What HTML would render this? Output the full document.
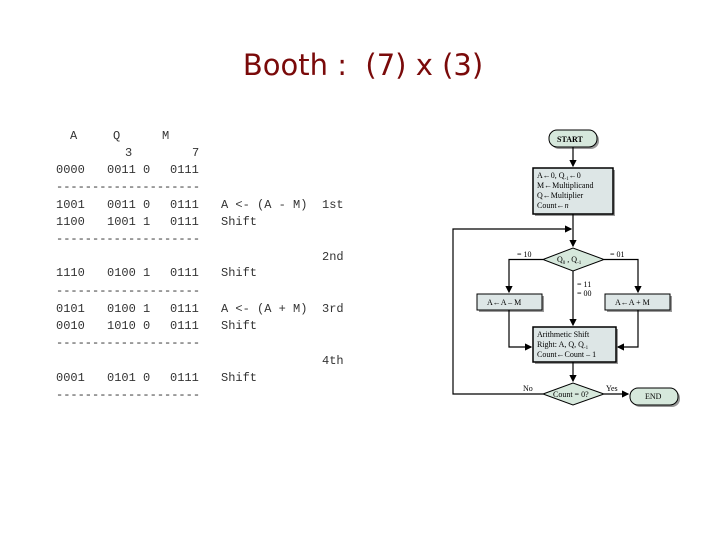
<!DOCTYPE html>
<html><head><meta charset="utf-8"><style>
body{margin:0;width:720px;height:540px;background:#fff;position:relative;overflow:hidden}
.t{position:absolute;font-family:"Liberation Mono",monospace;font-size:12px;line-height:14px;color:#333;white-space:pre}
#title{position:absolute;left:0;width:720px;top:48px;text-align:center;font-family:"DejaVu Sans","Liberation Sans",sans-serif;font-size:29px;color:#7a0a0a;padding-left:3px}
svg{position:absolute;left:0;top:0}
</style></head><body>
<div id="title">Booth :&nbsp; (7) x (3)</div>
<div class="t" style="left:70px;top:129px">A</div>
<div class="t" style="left:113px;top:129px">Q</div>
<div class="t" style="left:162px;top:129px">M</div>
<div class="t" style="left:125px;top:146px">3</div>
<div class="t" style="left:192px;top:146px">7</div>

<div class="t" style="left:56px;top:163px">0000</div><div class="t" style="left:107px;top:163px">0011 0</div><div class="t" style="left:170px;top:163px">0111</div>
<div class="t" style="left:56px;top:180px">--------------------</div>
<div class="t" style="left:56px;top:198px">1001</div><div class="t" style="left:107px;top:198px">0011 0</div><div class="t" style="left:170px;top:198px">0111</div><div class="t" style="left:221px;top:198px">A &lt;- (A - M)</div><div class="t" style="left:322px;top:198px">1st</div>
<div class="t" style="left:56px;top:215px">1100</div><div class="t" style="left:107px;top:215px">1001 1</div><div class="t" style="left:170px;top:215px">0111</div><div class="t" style="left:221px;top:215px">Shift</div>
<div class="t" style="left:56px;top:232px">--------------------</div>
<div class="t" style="left:322px;top:250px">2nd</div>
<div class="t" style="left:56px;top:266px">1110</div><div class="t" style="left:107px;top:266px">0100 1</div><div class="t" style="left:170px;top:266px">0111</div><div class="t" style="left:221px;top:266px">Shift</div>
<div class="t" style="left:56px;top:284px">--------------------</div>
<div class="t" style="left:56px;top:302px">0101</div><div class="t" style="left:107px;top:302px">0100 1</div><div class="t" style="left:170px;top:302px">0111</div><div class="t" style="left:221px;top:302px">A &lt;- (A + M)</div><div class="t" style="left:322px;top:302px">3rd</div>
<div class="t" style="left:56px;top:319px">0010</div><div class="t" style="left:107px;top:319px">1010 0</div><div class="t" style="left:170px;top:319px">0111</div><div class="t" style="left:221px;top:319px">Shift</div>
<div class="t" style="left:56px;top:336px">--------------------</div>
<div class="t" style="left:322px;top:354px">4th</div>
<div class="t" style="left:56px;top:371px">0001</div><div class="t" style="left:107px;top:371px">0101 0</div><div class="t" style="left:170px;top:371px">0111</div><div class="t" style="left:221px;top:371px">Shift</div>
<div class="t" style="left:56px;top:388px">--------------------</div>

<svg width="720" height="540" viewBox="0 0 720 540" font-family="Liberation Serif,serif" font-size="8">
<defs><marker id="a" markerWidth="6" markerHeight="6" refX="5" refY="3" orient="auto"><path d="M0,0L6,3L0,6z" fill="#000"/></marker></defs>
<g fill="#999">
<rect x="551" y="132" width="48" height="17" rx="8"/>
<rect x="535" y="170" width="80" height="46"/>
<rect x="479" y="296" width="65" height="16"/>
<rect x="607" y="296" width="65" height="16"/>
<rect x="535" y="329" width="83" height="35"/>
<rect x="632" y="390" width="48" height="17" rx="8"/>
</g>
<g stroke="#000" stroke-width="1" fill="#dde6e6">
<rect x="549" y="130" width="48" height="17" rx="8" fill="#d6e8dc"/>
<rect x="533" y="168" width="80" height="46" stroke-width="1.5"/>
<rect x="477" y="294" width="65" height="16"/>
<rect x="605" y="294" width="65" height="16"/>
<rect x="533" y="327" width="83" height="35" stroke-width="1.5"/>
<rect x="630" y="388" width="48" height="17" rx="8" fill="#d6e8dc"/>
<polygon points="543,259.5 573,248 604,259.5 573,271" fill="#d6e8dc"/>
<polygon points="543,394 573,383 604,394 573,405" fill="#d6e8dc"/>
</g>
<g stroke="#000" stroke-width="1.2" fill="none">
<path d="M573,147V166" marker-end="url(#a)"/>
<path d="M573,214V246" marker-end="url(#a)"/>
<path d="M573,271V325" marker-end="url(#a)"/>
<path d="M543,259.5H509V292" marker-end="url(#a)"/>
<path d="M604,259.5H638V292" marker-end="url(#a)"/>
<path d="M509,310V347H531" marker-end="url(#a)"/>
<path d="M638,310V347H618" marker-end="url(#a)"/>
<path d="M573,362V381" marker-end="url(#a)"/>
<path d="M604,394H628" marker-end="url(#a)"/>
<path d="M543,394H453V229H571" marker-end="url(#a)"/>
</g>
<g fill="#000">
<text x="557" y="142" font-weight="bold">START</text>
<text x="537" y="178">A←0, Q<tspan font-size="5" dy="2">-1</tspan><tspan dy="-2">←0</tspan></text>
<text x="537" y="188">M←Multiplicand</text>
<text x="537" y="198">Q←Multiplier</text>
<text x="537" y="208">Count←<tspan font-style="italic">n</tspan></text>
<text x="557" y="262">Q<tspan font-size="5" dy="2">0</tspan><tspan dy="-2"> , Q</tspan><tspan font-size="5" dy="2">-1</tspan></text>
<text x="517" y="257">= 10</text>
<text x="610" y="257">= 01</text>
<text x="577" y="287">= 11</text>
<text x="577" y="296">= 00</text>
<text x="487" y="305">A←A – M</text>
<text x="615" y="305">A←A + M</text>
<text x="537" y="337">Arithmetic Shift</text>
<text x="537" y="347">Right: A, Q, Q<tspan font-size="5" dy="2">-1</tspan></text>
<text x="537" y="357">Count←Count – 1</text>
<text x="553" y="397">Count = 0?</text>
<text x="523" y="391">No</text>
<text x="606" y="391">Yes</text>
<text x="645" y="399">END</text>
</g>
</svg>
</body></html>
